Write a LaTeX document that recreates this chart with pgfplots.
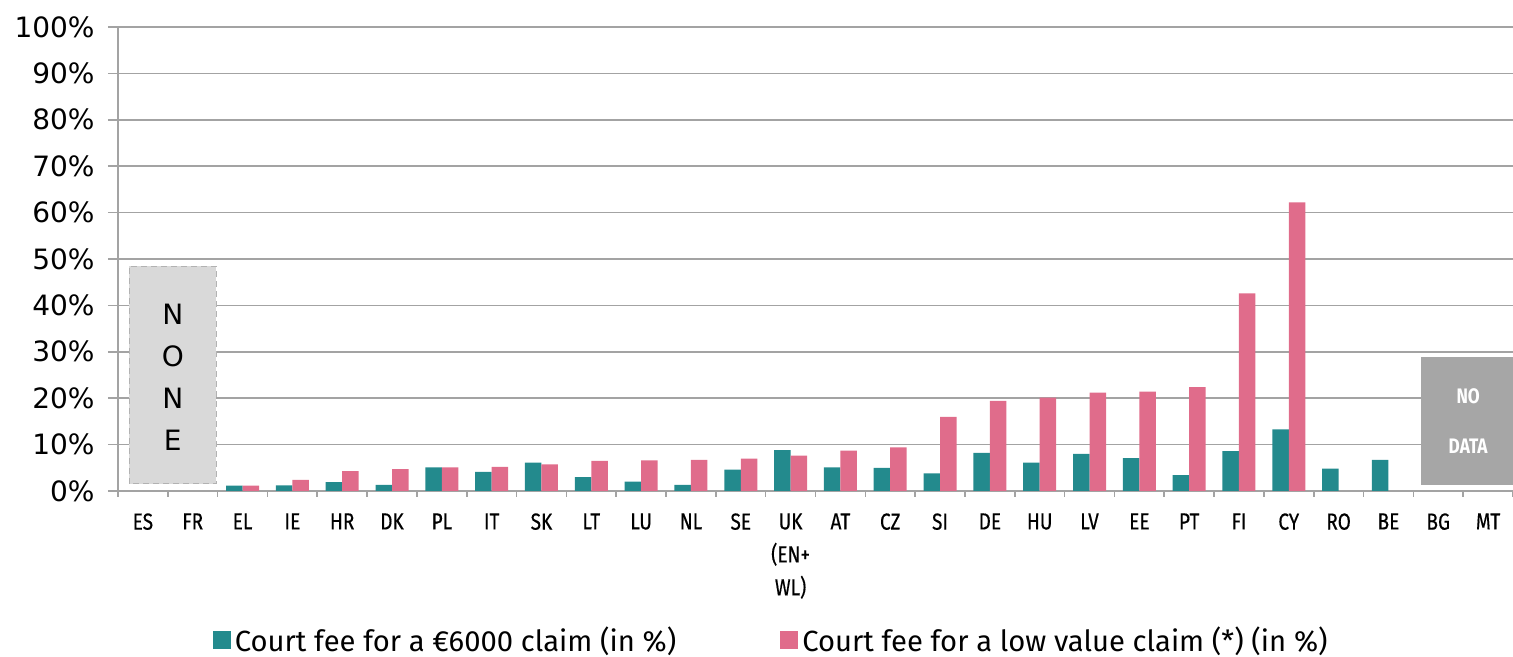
\documentclass[border=0pt]{standalone}
\usepackage{pgfplots}
\pgfplotsset{compat=1.18}
\usepackage{fontspec}
\setmainfont{Fira Sans}
\newfontfamily\ecfont{Fira Sans}[FakeStretch=0.82,FakeBold=0.4]
\newfontfamily\ecbold{Fira Sans}[FakeStretch=0.82]
\newfontfamily\legfont{Fira Sans}
\newfontfamily\vfont{DejaVu Sans}
\definecolor{feeteal}{HTML}{238A8D}
\definecolor{feepink}{HTML}{E06C8B}
\definecolor{gridgray}{HTML}{A3A3A3}
\definecolor{nonegray}{HTML}{D9D9D9}
\definecolor{nodatagray}{HTML}{A6A6A6}

\begin{document}
\begin{tikzpicture}
\begin{axis}[
  name=ax, scale only axis, width=697.5pt, height=232pt,
  ybar=0pt, bar width=8.25pt,
  xmin=-0.5, xmax=27.5, ymin=0, ymax=100,
  axis x line=bottom, axis y line=left,
  axis line style={-, gridgray, line width=0.8pt},
  xtick={0,...,27},
  xticklabels={ES,FR,EL,IE,HR,DK,PL,IT,SK,LT,LU,NL,SE,{UK\\(EN+\\WL)},AT,CZ,SI,DE,HU,LV,EE,PT,FI,CY,RO,BE,BG,MT},
  xticklabel style={font=\ecfont\fontsize{11.6}{16.5}\selectfont, align=center, anchor=north, inner sep=0pt, yshift=-6pt},
  major x tick style={draw=none},
  minor xtick={-0.5,0.5,...,27.5},
  minor x tick style={gridgray, line width=0.8pt},
  minor tick length=3pt,
  ytick={0,10,...,100},
  yticklabels={0\%,10\%,20\%,30\%,40\%,50\%,60\%,70\%,80\%,90\%,100\%},
  yticklabel style={font=\vfont\fontsize{14}{16}\selectfont, anchor=east, inner sep=0pt, xshift=-6.5pt},
  major tick length=5pt, tick align=outside,
  major y tick style={gridgray, line width=0.8pt},
  ymajorgrids, grid style={gridgray, line width=0.8pt},
  legend style={draw=none, at={(0.469,-0.322)}, anchor=center, legend columns=2,
    font=\legfont\fontsize{14.6}{18}\selectfont,
    /tikz/every even column/.append style={column sep=50pt}},
  legend cell align=left,
  legend image code/.code={\fill[#1] (0pt,-4.5pt) rectangle (9pt,4.5pt);},
]
\addplot[fill=feeteal, draw=none] coordinates {
  (2,1.15) (3,1.2) (4,1.9) (5,1.3) (6,5.1) (7,4.1) (8,6.1) (9,3.0) (10,2.0) (11,1.3)
  (12,4.6) (13,8.8) (14,5.1) (15,5.0) (16,3.8) (17,8.2) (18,6.1) (19,8.0) (20,7.1)
  (21,3.4) (22,8.6) (23,13.3) (24,4.8) (25,6.7)};
\addplot[fill=feepink, draw=none] coordinates {
  (2,1.15) (3,2.4) (4,4.3) (5,4.7) (6,5.1) (7,5.2) (8,5.75) (9,6.5) (10,6.6) (11,6.7)
  (12,7.0) (13,7.6) (14,8.7) (15,9.4) (16,16.0) (17,19.4) (18,20.1) (19,21.2) (20,21.4)
  (21,22.4) (22,42.6) (23,62.2)};
\legend{Court fee for a €6000 claim (in \%),Court fee for a low value claim (*) (in \%)}
\draw[densely dashed, gray!60, line width=0.4pt, fill=nonegray] (axis cs:-0.28,1.6) rectangle (axis cs:1.47,48.5);
\node[font=\vfont\fontsize{14}{21}\selectfont, align=center] at (axis cs:0.6,24.5) {N\\O\\N\\E};
\fill[nodatagray] (axis cs:25.66,1.2) rectangle (axis cs:27.5,28.8);
\node[font=\ecbold\bfseries\fontsize{10.5}{25}\selectfont, text=white, align=center] at (axis cs:26.6,15.1) {NO\\DATA};
\end{axis}
\pgfresetboundingbox
\path ([xshift=-59pt,yshift=-83pt]ax.south west) rectangle ([yshift=13.5pt]ax.north east);
\end{tikzpicture}
\end{document}
